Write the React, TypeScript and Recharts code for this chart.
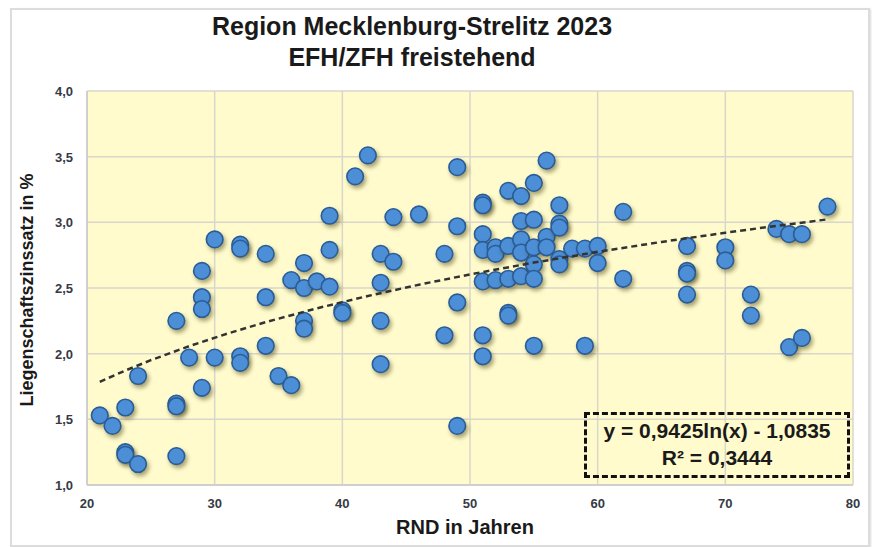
import React from "react";
import {
  ScatterChart,
  Scatter,
  XAxis,
  YAxis,
  CartesianGrid,
} from "recharts";

// RND (years) and Liegenschaftszinssatz (%) for each sale
const rndYears = [
  21, 22, 23, 23, 23, 24, 24, 27, 27, 27, 27, 28, 29, 29, 29, 29, 30, 30, 32, 32,
  32, 32, 34, 34, 34, 35, 36, 36, 37, 37, 37, 37, 38, 39, 39, 39, 40, 40, 41, 42,
  43, 43, 43, 43, 44, 44, 46, 48, 48, 49, 49, 49, 49, 51, 51, 51, 51, 51, 51, 51,
  52, 52, 52, 53, 53, 53, 53, 53, 54, 54, 54, 54, 54, 55, 55, 55, 55, 55, 55, 56,
  56, 56, 57, 57, 57, 57, 57, 58, 59, 59, 60, 60, 62, 62, 67, 67, 67, 67, 70, 70,
  72, 72, 74, 75, 75, 76, 76, 78,
];
const zinssatz = [
  1.53, 1.45, 1.59, 1.25, 1.23, 1.16, 1.83, 2.25, 1.62, 1.6, 1.22, 1.97, 2.63, 2.43, 2.34, 1.74, 2.87, 1.97, 2.83, 2.8,
  1.98, 1.93, 2.76, 2.43, 2.06, 1.83, 2.56, 1.76, 2.69, 2.5, 2.25, 2.19, 2.55, 3.05, 2.79, 2.51, 2.33, 2.31, 3.35, 3.51,
  2.76, 2.54, 2.25, 1.92, 3.04, 2.7, 3.06, 2.76, 2.14, 3.42, 2.97, 2.39, 1.45, 3.15, 3.13, 2.91, 2.79, 2.55, 2.14, 1.98,
  2.81, 2.76, 2.56, 3.24, 2.82, 2.57, 2.31, 2.29, 3.2, 3.01, 2.87, 2.77, 2.59, 3.3, 3.02, 2.81, 2.68, 2.57, 2.06, 3.47,
  2.89, 2.81, 3.13, 2.99, 2.96, 2.72, 2.68, 2.8, 2.8, 2.06, 2.82, 2.69, 3.08, 2.57, 2.82, 2.63, 2.61, 2.45, 2.81, 2.71,
  2.45, 2.29, 2.95, 2.91, 2.05, 2.91, 2.12, 3.12,
];

// logarithmic trend from the chart: y = a ln(x) + b
const trendA = 0.9425;
const trendB = -1.0835;
const trendXs = [21, 23, 25, 28, 31, 34, 38, 42, 46, 50, 55, 60, 65, 70, 74, 78];

const xTicks = [20, 30, 40, 50, 60, 70, 80];
const yTicks = [1, 1.5, 2, 2.5, 3, 3.5, 4];

const points = rndYears.map((x, i) => ({ x, y: zinssatz[i] }));
const trend = trendXs.map((x) => ({ x, y: trendA * Math.log(x) + trendB }));

const font = "'Liberation Sans', Arial, sans-serif";

const Dot = (props: any) => {
  const { cx, cy } = props;
  return (
    <circle
      cx={cx}
      cy={cy}
      r={8.3}
      fill="#4d8fd6"
      stroke="#2a5c98"
      strokeWidth={1.6}
      style={{ filter: "drop-shadow(2px 3px 2px rgba(60,50,0,0.45))" }}
    />
  );
};

const XTick = ({ x, y, payload }: any) => (
  <text
    x={x}
    y={y + 21}
    textAnchor="middle"
    fill="#363a44"
    fontSize={13}
    fontWeight={700}
    fontFamily={font}
  >
    {payload.value}
  </text>
);

const YTick = ({ x, y, payload }: any) => (
  <text
    x={86 - 13}
    y={y + 5}
    textAnchor="end"
    fill="#363a44"
    fontSize={13}
    fontWeight={700}
    fontFamily={font}
  >
    {Number(payload.value).toFixed(1).replace(".", ",")}
  </text>
);

export default function App() {
  return (
    <div
      style={{
        position: "absolute",
        left: 0,
        top: 0,
        width: 872,
        height: 547,
        background: "#fff",
        fontFamily: font,
      }}
    >
      <div
        style={{
          position: "absolute",
          left: 10,
          top: 8,
          width: 856,
          height: 535,
          border: "2px solid #dcdcdc",
          boxShadow: "1px 1px 2px rgba(0,0,0,0.15)",
        }}
      />
      <div
        style={{
          position: "absolute",
          left: 0,
          top: 11,
          width: 824,
          textAlign: "center",
          fontSize: 25,
          fontWeight: 700,
          lineHeight: "31px",
          color: "#1a1a1a",
        }}
      >
        Region Mecklenburg-Strelitz 2023
        <br />
        EFH/ZFH freistehend
      </div>
      <ScatterChart
        width={872}
        height={547}
        margin={{ top: 91, right: 19, bottom: 32, left: 47 }}
        style={{ position: "absolute", left: 0, top: 0 }}
      >
        <CartesianGrid fill="#fffbcc" stroke="#d9d6cc" strokeWidth={1.5} />
        <XAxis
          type="number"
          dataKey="x"
          domain={[20, 80]}
          ticks={xTicks}
          allowDataOverflow
          axisLine={{ stroke: "#cfcfcf", strokeWidth: 2 }}
          tickLine={false}
          tickSize={0}
          height={30}
          tick={<XTick />}
        />
        <YAxis
          type="number"
          dataKey="y"
          domain={[1, 4]}
          ticks={yTicks}
          allowDataOverflow
          axisLine={{ stroke: "#cfcfcf", strokeWidth: 2 }}
          tickLine={false}
          tickSize={0}
          width={40}
          tick={<YTick />}
        />
        <Scatter data={points} shape={<Dot />} isAnimationActive={false} />
        <Scatter
          data={trend}
          line={{ stroke: "#333", strokeWidth: 2.5, strokeDasharray: "6 4" }}
          lineType="joint"
          shape={() => <g />}
          isAnimationActive={false}
        />
      </ScatterChart>
      <div
        style={{
          position: "absolute",
          left: 27,
          top: 290,
          transform: "translate(-50%, -50%) rotate(-90deg)",
          fontSize: 18,
          fontWeight: 700,
          whiteSpace: "nowrap",
          color: "#1a1a1a",
        }}
      >
        Liegenschaftszinssatz in %
      </div>
      <div
        style={{
          position: "absolute",
          left: 365,
          top: 516,
          width: 200,
          textAlign: "center",
          fontSize: 20,
          fontWeight: 700,
          color: "#1a1a1a",
        }}
      >
        RND in Jahren
      </div>
      <div
        style={{
          position: "absolute",
          left: 584,
          top: 412,
          width: 260,
          height: 58,
          border: "3px dashed #111",
          textAlign: "center",
          fontSize: 21,
          fontWeight: 700,
          lineHeight: "27px",
          paddingTop: 2,
          color: "#1a1a1a",
        }}
      >
        y = 0,9425ln(x) - 1,0835
        <br />
        R² = 0,3444
      </div>
    </div>
  );
}
